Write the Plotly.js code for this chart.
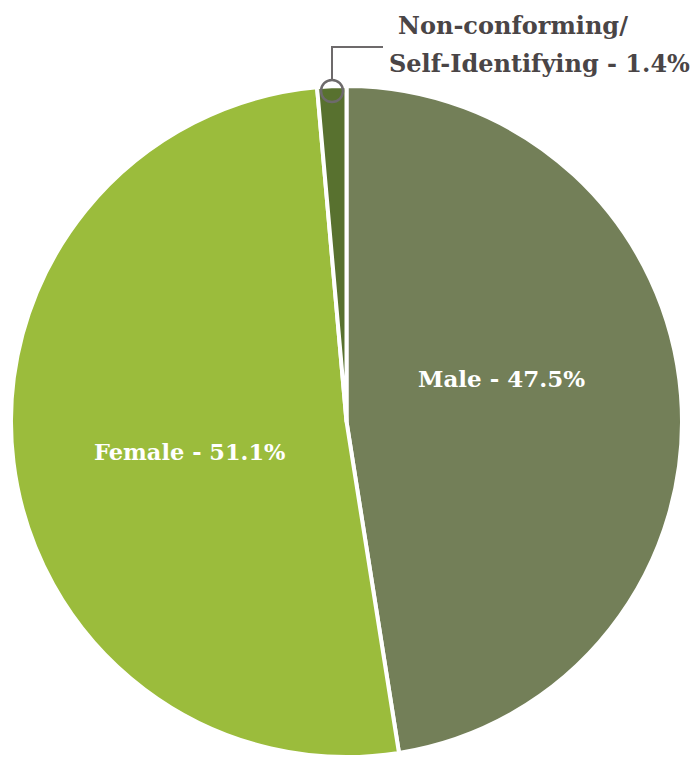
<!DOCTYPE html>
<html>
<head>
<meta charset="utf-8">
<script src="https://cdn.plot.ly/plotly-3.0.1.min.js"></script>
<style>html,body{margin:0;padding:0;background:#fff;}#chart{width:693px;height:757px;}</style>
</head>
<body>
<div id="chart"></div>
<script>
var categories = ["Male", "Female", "Non-conforming/<br>Self-Identifying"];
var shares = [47.5, 51.1, 1.4];
var sliceColors = ["#737f58", "#9bbc3c", "#58712f"];

var W = 693, H = 757, L = 11, R = 11, T = 86, B = 0;
var pw = W - L - R, ph = H - T - B;
function px(x){ return (x - L) / pw; }
function py(y){ return (H - B - y) / ph; }

var maleFont = {family: "DejaVu Serif", size: 23, color: "#ffffff"};
var femaleFont = {family: "DejaVu Serif", size: 22.5, color: "#ffffff"};
var darkFont = {family: "DejaVu Serif", size: 24, color: "#4a4546"};

var data = [{
  type: "pie",
  labels: categories,
  values: shares,
  sort: false,
  direction: "clockwise",
  rotation: 0,
  marker: {colors: sliceColors, line: {color: "#ffffff", width: 4}},
  textinfo: "none",
  hoverinfo: "label+percent",
  showlegend: false
}];

var annotations = [
  {x: px(501), y: py(378), xref: "paper", yref: "paper", xanchor: "center", yanchor: "middle", showarrow: false,
   text: "<b>" + categories[0] + " - " + shares[0] + "%</b>", font: maleFont},
  {x: px(190), y: py(452), xref: "paper", yref: "paper", xanchor: "center", yanchor: "middle", showarrow: false,
   text: "<b>" + categories[1] + " - " + shares[1] + "%</b>", font: femaleFont},
  {x: px(396), y: py(25), xref: "paper", yref: "paper", xanchor: "left", yanchor: "middle", showarrow: false,
   text: "<b>" + categories[2].split("<br>")[0] + "</b>", font: darkFont},
  {x: px(387), y: py(63), xref: "paper", yref: "paper", xanchor: "left", yanchor: "middle", showarrow: false,
   text: "<b>" + categories[2].split("<br>")[1] + " - " + shares[2] + "%</b>", font: darkFont}
];

var shapes = [
  {type: "path", xref: "paper", yref: "paper",
   path: "M " + px(332) + " " + py(80) + " L " + px(332) + " " + py(47) + " L " + px(383) + " " + py(47),
   line: {color: "#6d6a6b", width: 2}},
  {type: "circle", xref: "paper", yref: "paper",
   x0: px(321), x1: px(343), y0: py(102), y1: py(80),
   line: {color: "#6d6a6b", width: 2.5}, fillcolor: "rgba(0,0,0,0)"}
];

var layout = {
  width: W, height: H,
  margin: {l: L, r: R, t: T, b: B},
  paper_bgcolor: "#ffffff",
  plot_bgcolor: "#ffffff",
  showlegend: false,
  annotations: annotations,
  shapes: shapes
};

Plotly.newPlot("chart", data, layout, {displayModeBar: false, staticPlot: true});
</script>
</body>
</html>
